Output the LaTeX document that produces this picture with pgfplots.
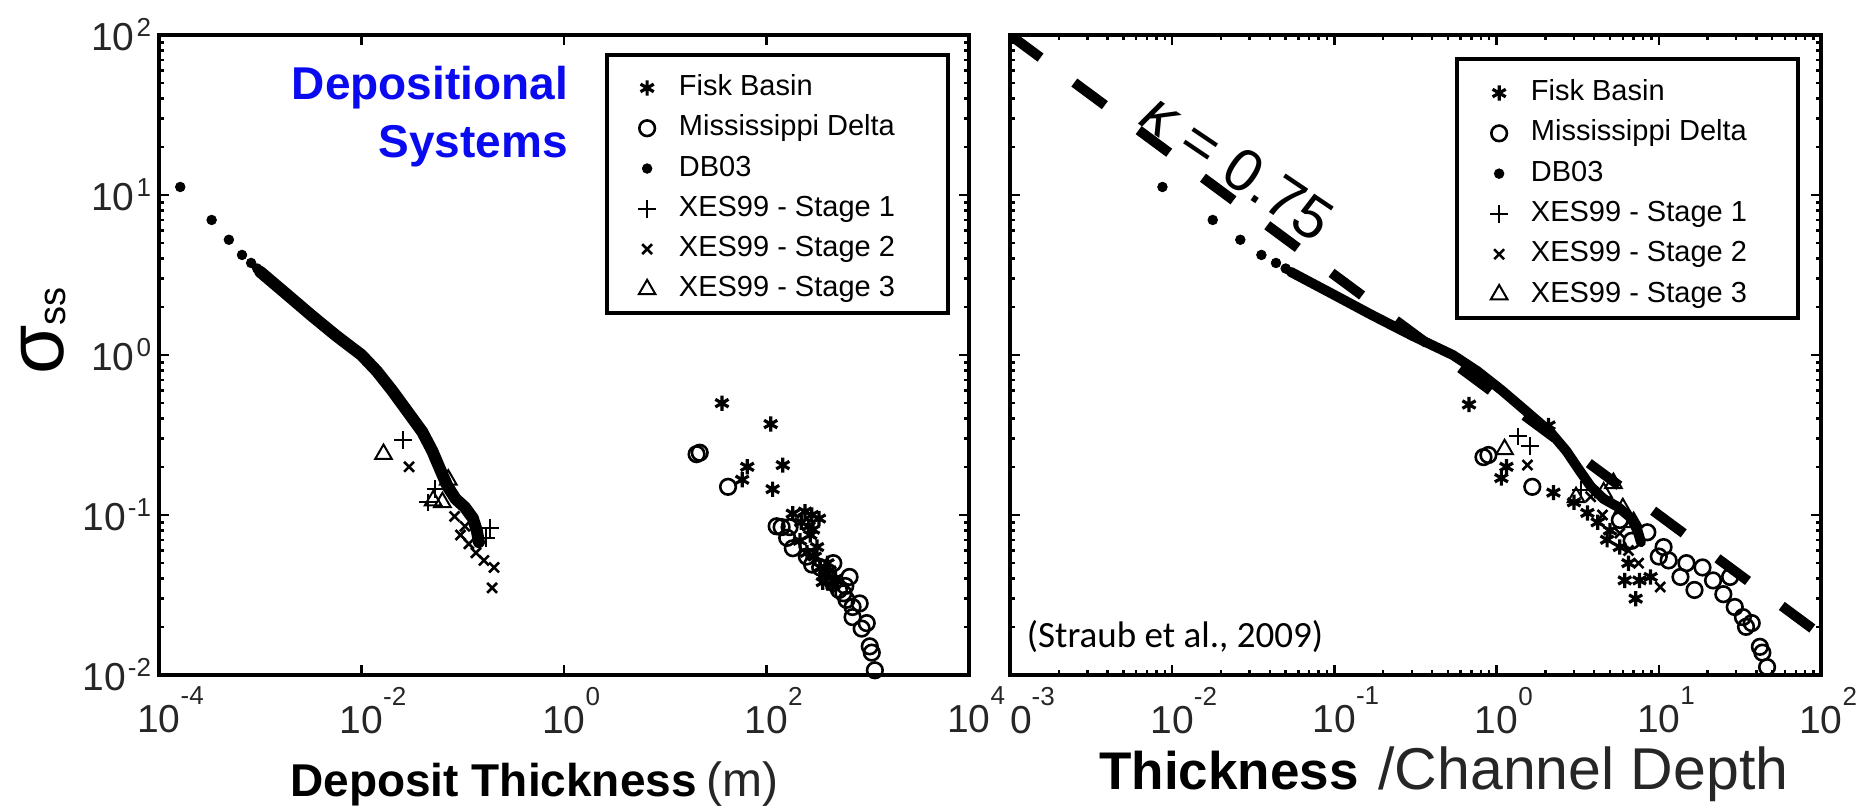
\documentclass[border=0pt]{standalone}
\usepackage{fontspec}
\setmainfont{Liberation Sans}
\newfontfamily\calibri{Carlito}
\usepackage{pgfplots}
\pgfplotsset{compat=1.18}

% tick labels: x labels carry a high exponent that hangs to the right of "10"
\newcommand{\xtl}[2]{#1\rlap{\raisebox{14pt}{\fontsize{13}{13}\selectfont#2}}}
\newcommand{\ytl}[1]{10\kern1pt\raisebox{7pt}{\fontsize{13}{13}\selectfont#1}}

% marker styles of the data sets
\pgfplotsset{
  fisk/.style={only marks, mark=asterisk, mark size=3.8pt, line width=1.6pt, black},
  miss/.style={only marks, mark=o, mark size=3.9pt, line width=1.3pt, black},
  dbdot/.style={only marks, mark=*, mark size=2.4pt, black},
  sone/.style={only marks, mark=+, mark size=4.4pt, line width=1pt, black},
  stwo/.style={only marks, mark=x, mark size=3.5pt, line width=1.3pt, black},
  sthree/.style={only marks, mark=triangle, mark size=4.8pt, line width=1pt, black},
  dbline/.style={line width=6pt, line join=round, line cap=round, black, no marks},
}

\begin{document}
\begin{tikzpicture}
\path[use as bounding box] (0,0) rectangle (930pt,403.5pt);

% ---------------- deposit thickness (m) ----------------
\begin{axis}[
  xmode=log, ymode=log,
  scale only axis,
  at={(79.5pt,66pt)}, anchor=south west,
  width=405pt, height=320pt,
  xmin=1e-4, xmax=1e4, ymin=1e-2, ymax=1e2,
  axis line style={line width=2pt},
  every tick/.style={black, line width=1.2pt},
  major tick length=5pt, minor tick length=2.5pt,
  tick align=inside,
  xtick={1e-4,1e-2,1,1e2,1e4}, xminorticks=false,
  xticklabels={\xtl{10}{-4},\xtl{10}{-2},\xtl{10}{0},\xtl{10}{2},\xtl{10}{4}},
  ytick={1e-2,1e-1,1,1e1,1e2},
  yticklabels={\ytl{-2},\ytl{-1},\ytl{0},\ytl{1},\ytl{2}},
  tick label style={font=\fontsize{19.5}{19.5}\selectfont, text=black!85},
  xticklabel style={anchor=north, inner sep=0pt, outer sep=0pt, yshift=-6pt},
  yticklabel style={anchor=east, inner sep=0pt, outer sep=0pt, xshift=-4pt},
  legend cell align=left,
  legend image post style={draw=none},
  legend style={draw=none, fill=none, at={(0.5913,0.939)}, anchor=north west, inner sep=0pt,
    row sep=6.65pt, column sep=11.5pt, font=\fontsize{14.5}{14.5}\selectfont,
    nodes={inner sep=0pt, text height=10.5pt, text depth=3pt}},
]
\addplot[dbline, forget plot] coordinates {
 (1.0e-3,3.31) (1.778e-3,2.43) (3.162e-3,1.78) (5.62e-3,1.32) (0.01,1.0)
 (0.01413,0.794) (0.01995,0.603) (0.02818,0.447) (0.03981,0.331) (0.0501,0.251)
 (0.0603,0.1905) (0.0708,0.151) (0.0851,0.126) (0.1047,0.112) (0.1259,0.0955)
 (0.138,0.0794) (0.1445,0.0676)};
\addplot[fisk] coordinates {
 (36.3,0.50) (110,0.37) (145,0.205) (64.6,0.20) (57.5,0.166) (115,0.145)
 (182,0.102) (240,0.105) (280,0.10) (330,0.095) (220,0.09) (260,0.085)
 (288,0.081) (316,0.063) (214,0.069) (251,0.058) (340,0.047) (380,0.042)
 (420,0.045) (360,0.038) (450,0.036) (400,0.050) (480,0.040) (300,0.055) (270,0.075)};
\addlegendentry{Fisk Basin}
\addplot[miss] coordinates {
 (20.4,0.24) (21.9,0.245) (41.7,0.15) (126,0.085) (141,0.084) (169,0.084)
 (182,0.062) (160,0.072) (282,0.049) (339,0.047) (457,0.050) (398,0.041)
 (457,0.0376) (661,0.041) (575,0.0324) (617,0.0295) (708,0.0266) (832,0.028)
 (708,0.023) (871,0.0195) (977,0.0211) (1047,0.0151) (1096,0.0138) (1175,0.0107)
 (250,0.055) (520,0.034) (600,0.036)};
\addlegendentry{Mississippi Delta}
\addplot[dbdot] coordinates {
 (1.622e-4,11.22) (3.311e-4,6.98) (4.898e-4,5.25) (6.607e-4,4.22) (8.128e-4,3.76) (9.33e-4,3.47)};
\addlegendentry{DB03}
\addplot[sone] coordinates {
 (0.0257,0.295) (0.0537,0.145) (0.186,0.083) (0.17,0.072) (0.045,0.12)};
\addlegendentry{XES99 - Stage 1}
\addplot[stwo] coordinates {
 (0.0295,0.20) (0.083,0.098) (0.115,0.066) (0.135,0.058) (0.162,0.052)
 (0.204,0.047) (0.195,0.035) (0.105,0.085) (0.095,0.075)};
\addlegendentry{XES99 - Stage 2}
\addplot[sthree] coordinates {
 (0.0165,0.24) (0.072,0.166) (0.051,0.123) (0.063,0.12)};
\addlegendentry{XES99 - Stage 3}
\draw[line width=2pt] (rel axis cs:0.5531,0.96875) rectangle (rel axis cs:0.9741,0.5656);
\end{axis}

% ---------------- thickness / channel depth ----------------
\begin{axis}[
  xmode=log, ymode=log,
  scale only axis,
  at={(505pt,66pt)}, anchor=south west,
  width=405.5pt, height=320pt,
  xmin=1e-3, xmax=1e2, ymin=1e-2, ymax=1e2,
  axis line style={line width=2pt},
  every tick/.style={black, line width=1.2pt},
  major tick length=5pt, minor tick length=2.5pt,
  tick align=inside,
  xtick={1e-3,1e-2,1e-1,1,1e1,1e2},
  xticklabels={\xtl{\phantom{1}0}{-3},\xtl{10}{-2},\xtl{10}{-1},\xtl{10}{0},\xtl{10}{1},\xtl{10}{2}},
  ytick={1e-2,1e-1,1,1e1,1e2},
  yticklabels={},
  tick label style={font=\fontsize{19.5}{19.5}\selectfont, text=black!85},
  xticklabel style={anchor=north, inner sep=0pt, outer sep=0pt, yshift=-6pt},
  legend cell align=left,
  legend image post style={draw=none},
  legend style={draw=none, fill=none, at={(0.5918,0.931)}, anchor=north west, inner sep=0pt,
    row sep=6.65pt, column sep=11.5pt, font=\fontsize{14.5}{14.5}\selectfont,
    nodes={inner sep=0pt, text height=10.5pt, text depth=3pt}},
]
\addplot[line width=5pt, dash pattern=on 19pt off 21pt, black, no marks, forget plot]
  coordinates {(1e-3,100) (100,0.0178)};
\addplot[dbline, line width=5pt, forget plot] coordinates {
 (0.0537,3.31) (0.0955,2.43) (0.1698,1.78) (0.302,1.32) (0.537,1.0)
 (0.759,0.794) (1.072,0.603) (1.514,0.447) (2.138,0.331) (2.692,0.251)
 (3.236,0.1905) (3.802,0.151) (4.571,0.126) (5.623,0.112) (6.761,0.0955)
 (7.413,0.0794) (7.762,0.0676)};
\addplot[fisk] coordinates {
 (0.676,0.49) (2.09,0.363) (1.15,0.20) (1.07,0.17) (2.24,0.138) (3.63,0.103)
 (4.2,0.09) (5.0,0.08) (5.75,0.063) (4.8,0.07) (6.17,0.039) (7.6,0.039)
 (8.9,0.041) (7.2,0.030) (6.5,0.05) (3.0,0.12)};
\addlegendentry{Fisk Basin}
\addplot[miss] coordinates {
 (0.89,0.237) (0.83,0.23) (1.66,0.15) (5.75,0.093) (8.5,0.078) (10.7,0.063)
 (11.5,0.052) (14.8,0.050) (18.6,0.047) (21.6,0.039) (25,0.032) (29.4,0.0266)
 (33,0.023) (37.4,0.0211) (34.5,0.020) (42,0.015) (43.5,0.0138) (46.5,0.0112)
 (13.6,0.041) (10,0.055) (6.8,0.069) (16.6,0.034) (27.5,0.041)};
\addlegendentry{Mississippi Delta}
\addplot[dbdot] coordinates {
 (8.71e-3,11.22) (0.01778,6.98) (0.0263,5.25) (0.03548,4.22) (0.04365,3.76) (0.0501,3.47)};
\addlegendentry{DB03}
\addplot[sone] coordinates {(1.35,0.31) (3.3,0.144) (1.6,0.27)};
\addlegendentry{XES99 - Stage 1}
\addplot[stwo] coordinates {
 (1.55,0.205) (10.2,0.0355) (5.75,0.077) (4.5,0.1) (6.5,0.06) (3.8,0.13) (7.5,0.05)};
\addlegendentry{XES99 - Stage 2}
\addplot[sthree] coordinates {
 (1.12,0.257) (5.25,0.158) (4.57,0.138) (3.09,0.129) (6.0,0.11) (7.0,0.09)};
\addlegendentry{XES99 - Stage 3}
\draw[line width=2pt] (rel axis cs:0.5512,0.9625) rectangle (rel axis cs:0.9716,0.5578);
\end{axis}

% annotations and axis titles
\node[rotate=-34, font=\fontsize{30}{30}\selectfont] at (619pt,320pt) {{\itshape κ} = 0.75};
\node[anchor=base east, text={rgb,255:red,10;green,10;blue,240}, font=\bfseries\fontsize{23}{23}\selectfont] at (287.5pt,353.5pt) {Depositional};
\node[anchor=base east, text={rgb,255:red,10;green,10;blue,240}, font=\bfseries\fontsize{23}{23}\selectfont] at (287.5pt,324.5pt) {Systems};
\node[anchor=base, font=\calibri\fontsize{18.5}{18.5}\selectfont] at (587.5pt,79.5pt) {(Straub et al., 2009)};
\node[anchor=base, rotate=90, inner sep=0pt] at (31.5pt,238pt)
  {{\fontsize{40}{40}\selectfont σ}{\fontsize{19}{19}\selectfont\raisebox{-1pt}{ss}}};
\node[anchor=base west, inner sep=0pt, font=\bfseries\fontsize{23}{23}\selectfont] at (145pt,5pt) {Deposit Thickness};
\node[anchor=base west, inner sep=0pt, text=black!85, font=\fontsize{24}{24}\selectfont] at (353pt,5pt) {(m)};
\node[anchor=base west, inner sep=0pt, font=\bfseries\fontsize{26.5}{26.5}\selectfont] at (549.5pt,8.5pt) {Thickness};
\node[anchor=base west, inner sep=0pt, text=black!85, font=\fontsize{29.5}{29.5}\selectfont] at (689pt,8.5pt) {/Channel Depth};
\end{tikzpicture}
\end{document}
